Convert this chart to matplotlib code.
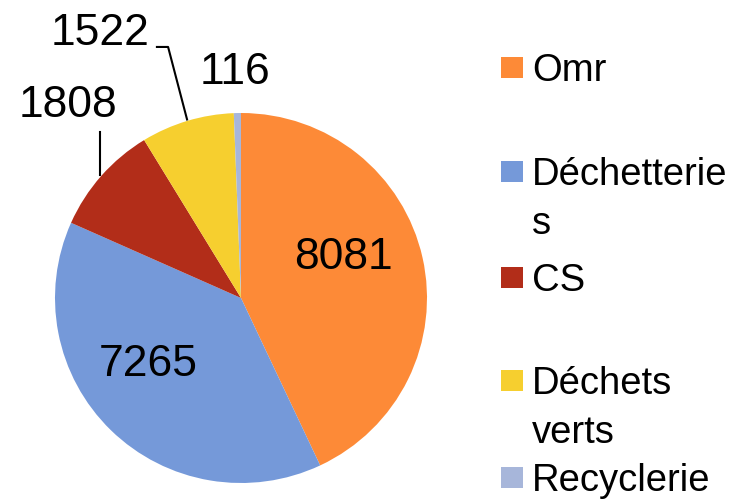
import matplotlib.pyplot as plt
from matplotlib.patches import Rectangle

# Data
categories = ['Omr', 'Déchetteries', 'CS', 'Déchets verts', 'Recyclerie']
legend_labels = ['Omr', 'Déchetterie\ns', 'CS', 'Déchets\nverts', 'Recyclerie']
values = [8081, 7265, 1808, 1522, 116]
colors = ['#FD8A37', '#7599D9', '#B22D19', '#F6CF2F', '#A7B6DA']

# Label placement (data coords, pie radius = 1)
label_pos = [(0.55, 0.22), (-0.50, -0.36), (-0.93, 1.04), (-0.76, 1.43), (-0.03, 1.22)]

plt.rcParams['font.family'] = ['Liberation Sans', 'DejaVu Sans']

fig = plt.figure(figsize=(7.35, 5.04), dpi=100)
ax = fig.add_axes([55 / 735, 21 / 504, 372 / 735, 370 / 504])

wedges, _ = ax.pie(values, colors=colors, startangle=90, counterclock=False,
                   radius=1, center=(0, 0), frame=False,
                   wedgeprops=dict(linewidth=0))
ax.set_aspect('auto')
ax.set_xlim(-1, 1)
ax.set_ylim(-1, 1)
ax.axis('off')

for v, (x, y) in zip(values, label_pos):
    ax.text(x, y, str(v), ha='center', va='center', fontsize=32, clip_on=False)

# Leader lines
ax.plot([-0.758, -0.758], [0.897, 0.665], color='black', lw=1.5, clip_on=False)
ax.plot([-0.452, -0.392, -0.29], [1.357, 1.357, 0.965], color='black', lw=1.5, clip_on=False)

# Legend drawn to match the original layout
legend_y = [67, 171, 277, 380, 477]
for lab, col, yp in zip(legend_labels, colors, legend_y):
    yf = 1 - yp / 504
    fig.patches.append(Rectangle((501 / 735, yf - 10.5 / 504), 22 / 735, 21 / 504,
                                 transform=fig.transFigure, facecolor=col,
                                 edgecolor='none'))
    fig.text(532 / 735, yf + 14 / 504, lab, ha='left', va='top', fontsize=27.5,
             linespacing=1.45)

plt.savefig('out.png', dpi=100)
